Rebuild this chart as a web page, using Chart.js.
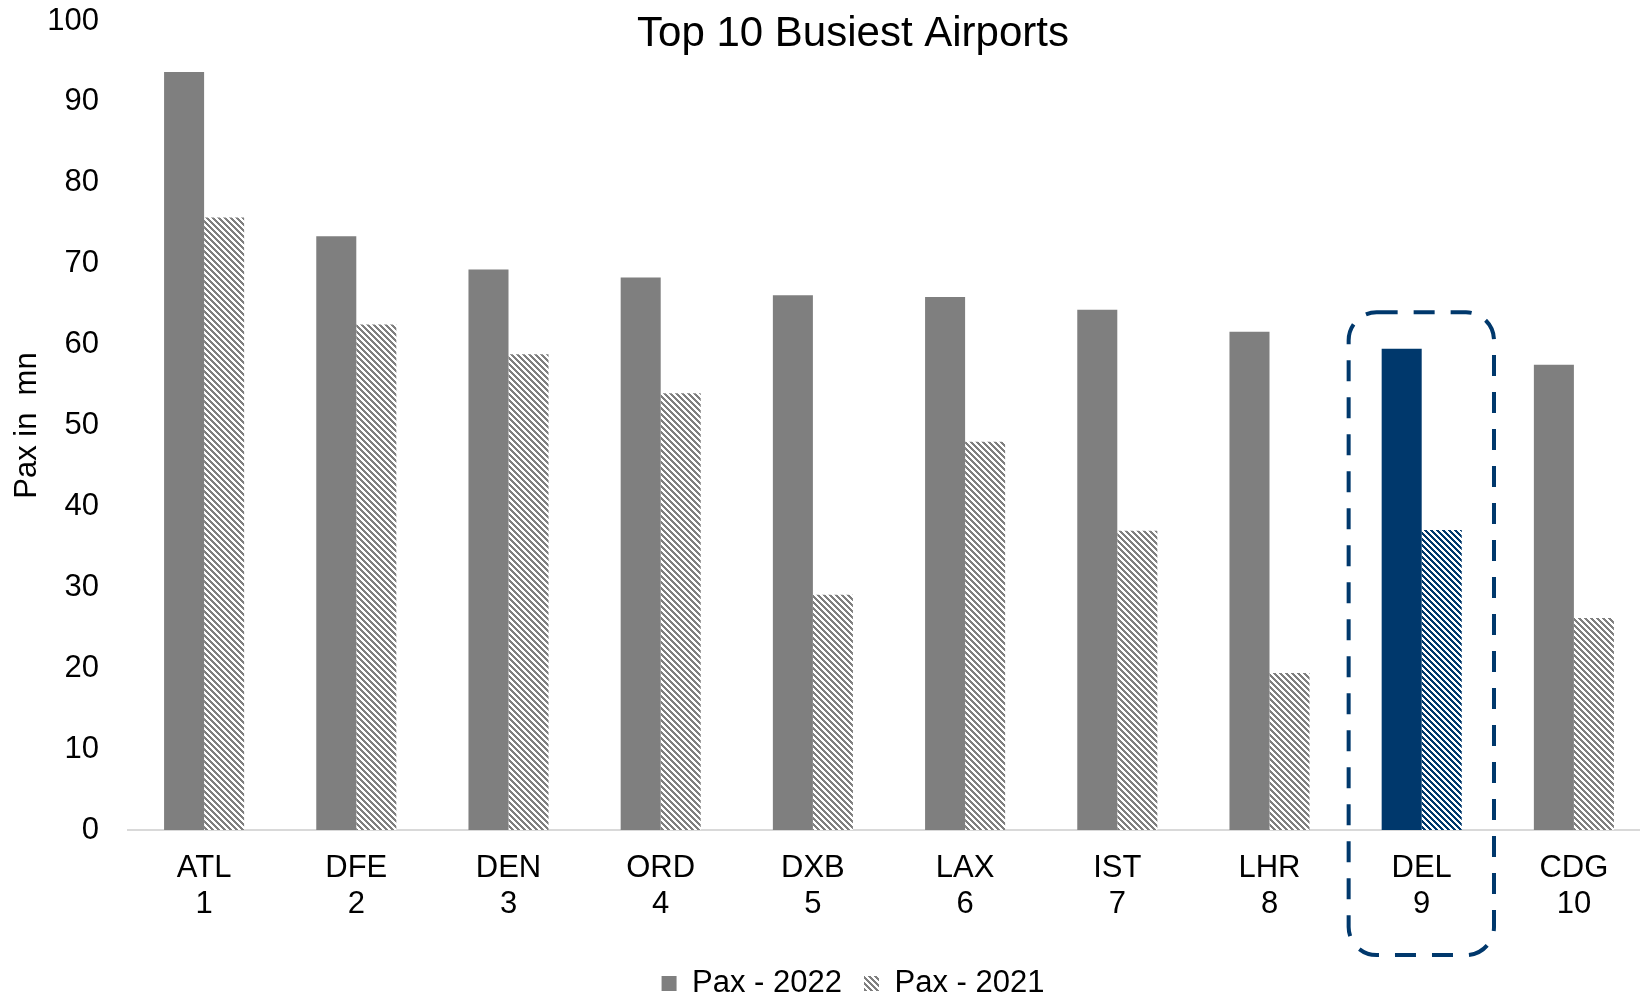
<!DOCTYPE html>
<html>
<head>
<meta charset="utf-8">
<script src="https://cdn.jsdelivr.net/npm/chart.js@4/dist/chart.umd.min.js"></script>
<style>
  html, body { margin: 0; padding: 0; background: #fff; overflow: hidden; }
  #wrap { width: 1706px; height: 997px; position: relative; }
</style>
</head>
<body>
<div id="wrap"><canvas id="c" width="1706" height="997"></canvas></div>
<script>
const airports = ['ATL', 'DFE', 'DEN', 'ORD', 'DXB', 'LAX', 'IST', 'LHR', 'DEL', 'CDG'];
const ranks = ['1', '2', '3', '4', '5', '6', '7', '8', '9', '10'];
const pax2022 = [93.7, 73.4, 69.3, 68.3, 66.1, 65.9, 64.3, 61.6, 59.5, 57.5];
const pax2021 = [75.7, 62.5, 58.8, 54.0, 29.1, 48.0, 37.0, 19.4, 37.1, 26.2];
const seriesNames = ['Pax - 2022', 'Pax - 2021'];
const chartTitle = 'Top 10 Busiest Airports';
const highlightIndex = 8;
const yTicks = [0, 10, 20, 30, 40, 50, 60, 70, 80, 90, 100];

const GRAY = '#7f7f7f';
const NAVY = '#00386c';

function makeHatch(color) {
  const P = 6;
  const c = document.createElement('canvas');
  c.width = P; c.height = P;
  const g = c.getContext('2d');
  g.fillStyle = '#ffffff';
  g.fillRect(0, 0, P, P);
  g.fillStyle = color;
  for (let y = 0; y < P; y++) {
    for (let x = 0; x < P; x++) {
      if ((((x - y) % P) + P) % P < 3) g.fillRect(x, y, 1, 1);
    }
  }
  return document.getElementById('c').getContext('2d').createPattern(c, 'repeat');
}
const hatchGray = makeHatch(GRAY);
const hatchNavy = makeHatch(NAVY);

const labels = airports.map((a, i) => [a, ranks[i]]);
const solidColors = pax2022.map((v, i) => i === highlightIndex ? NAVY : GRAY);
const hatchColors = pax2021.map((v, i) => i === highlightIndex ? hatchNavy : hatchGray);

const FONT = "'Liberation Sans', Arial, sans-serif";

const titlePlugin = {
  id: 'overlayTitle',
  afterDraw(chart) {
    const ctx = chart.ctx;
    ctx.save();
    ctx.fillStyle = '#000';
    ctx.font = '42px ' + FONT;
    ctx.textAlign = 'center';
    ctx.textBaseline = 'middle';
    ctx.fillText(chartTitle, chart.width / 2, 34);
    ctx.restore();
  }
};

const highlightBox = {
  id: 'highlightBox',
  afterDraw(chart) {
    const xs = chart.scales.x, ys = chart.scales.y;
    const cx = xs.getPixelForValue(highlightIndex);
    const cw = xs.width / airports.length;
    const left = cx - cw * 0.48, right = cx + cw * 0.475;
    const top = ys.getPixelForValue(64);
    const bottom = ys.bottom + 125;
    const r = 28;
    const ctx = chart.ctx;
    ctx.save();
    ctx.strokeStyle = NAVY;
    ctx.lineWidth = 4;
    ctx.setLineDash([21, 16]);
    ctx.beginPath();
    ctx.moveTo(left + r, top);
    ctx.lineTo(right - r, top);
    ctx.arcTo(right, top, right, top + r, r);
    ctx.lineTo(right, bottom - r);
    ctx.arcTo(right, bottom, right - r, bottom, r);
    ctx.lineTo(left + r, bottom);
    ctx.arcTo(left, bottom, left, bottom - r, r);
    ctx.lineTo(left, top + r);
    ctx.arcTo(left, top, left + r, top, r);
    ctx.closePath();
    ctx.stroke();
    ctx.restore();
  }
};

new Chart(document.getElementById('c'), {
  type: 'bar',
  data: {
    labels: labels,
    datasets: [
      { label: seriesNames[0], data: pax2022, backgroundColor: solidColors, borderWidth: 0 },
      { label: seriesNames[1], data: pax2021, backgroundColor: hatchColors, borderWidth: 0 }
    ]
  },
  options: {
    responsive: false,
    animation: false,
    events: [],
    layout: { padding: { left: 0, right: 0, top: 21, bottom: -12 } },
    datasets: { bar: { categoryPercentage: 0.526, barPercentage: 1.0 } },
    plugins: {
      title: { display: false },
      legend: {
        display: true,
        position: 'bottom',
        labels: {
          color: '#000',
          font: { family: FONT, size: 31 },
          boxWidth: 15,
          boxHeight: 15,
          padding: 22,
          generateLabels(chart) {
            return [
              { text: seriesNames[0], fillStyle: GRAY, strokeStyle: GRAY, lineWidth: 0, datasetIndex: 0, hidden: false },
              { text: seriesNames[1], fillStyle: hatchGray, strokeStyle: GRAY, lineWidth: 0, datasetIndex: 1, hidden: false }
            ];
          }
        }
      },
      tooltip: { enabled: false }
    },
    scales: {
      x: {
        grid: { display: false, drawTicks: false },
        border: { display: true, color: '#d9d9d9', width: 2 },
        ticks: {
          color: '#000',
          font: { family: FONT, size: 31, lineHeight: 1.16 },
          padding: 20,
          maxRotation: 0,
          autoSkip: false
        },
        afterFit(s) { s.height = s.height + 4; }
      },
      y: {
        min: 0,
        max: 100,
        afterBuildTicks(s) { s.ticks = yTicks.map(v => ({ value: v })); },
        grid: { display: false, drawTicks: false },
        border: { display: false },
        ticks: {
          color: '#000',
          font: { family: FONT, size: 31 },
          padding: 29
        },
        title: {
          display: true,
          text: 'Pax in  mn',
          color: '#000',
          font: { family: FONT, size: 31 },
          padding: { top: 9, bottom: 0 }
        },
        afterFit(s) { s.width = 128; s.paddingTop = 0; s.paddingBottom = 0; }
      },
      y2: {
        position: 'right',
        display: true,
        grid: { display: false, drawTicks: false },
        border: { display: false },
        ticks: { display: false },
        afterFit(s) { s.width = 56; s.paddingTop = 0; s.paddingBottom = 0; }
      }
    }
  },
  plugins: [highlightBox, titlePlugin]
});
</script>
</body>
</html>
